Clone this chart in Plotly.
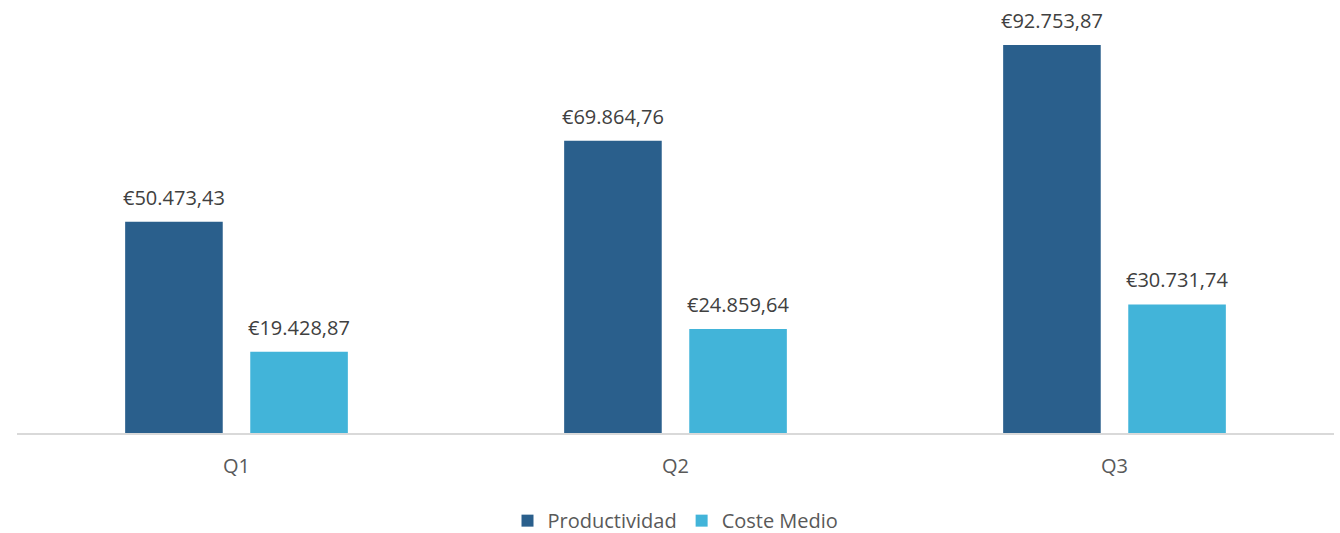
import plotly.graph_objects as go

categories = ["Q1", "Q2", "Q3"]
productividad = [50473.43, 69864.76, 92753.87]
coste_medio = [19428.87, 24859.64, 30731.74]
series_names = ["Productividad", "Coste Medio"]
colors = ["#2A5F8C", "#42B4D9"]


def eur(v):
    s = f"{v:,.2f}".replace(",", "X").replace(".", ",").replace("X", ".")
    return "€" + s


fig = go.Figure()
for name, vals, col in zip(series_names, [productividad, coste_medio], colors):
    fig.add_trace(go.Bar(name=name, x=categories, y=vals, marker_color=col,
                         marker_line_width=0, hoverinfo="skip"))

offsets = [-0.143, 0.143]
annotations = []
for off, vals in zip(offsets, [productividad, coste_medio]):
    for i, v in enumerate(vals):
        annotations.append(dict(x=i + off, y=v, xref="x", yref="y", text=eur(v),
                                showarrow=False, yanchor="bottom", yshift=9,
                                font=dict(family="Open Sans", size=20, color="#404040")))

fig.update_layout(
    width=1340, height=533,
    margin=dict(l=17, r=6, t=20, b=100, autoexpand=False),
    paper_bgcolor="white", plot_bgcolor="white",
    barmode="group", bargap=0.43, bargroupgap=0.22,
    annotations=annotations,
    xaxis=dict(showline=True, linecolor="#D9D9D9", linewidth=2, ticks="",
               ticklabelstandoff=14, automargin=False,
               tickfont=dict(family="Open Sans", size=20, color="#595959"),
               showgrid=False, zeroline=False),
    yaxis=dict(range=[0, 98730], visible=False, showgrid=False, zeroline=False,
               automargin=False),
    legend=dict(orientation="h", x=0.5, xanchor="center", y=-0.165, yanchor="top",
                font=dict(family="Open Sans", size=20, color="#595959"),
                itemwidth=30, traceorder="normal"),
    showlegend=True,
)

fig.write_html("out.html")
